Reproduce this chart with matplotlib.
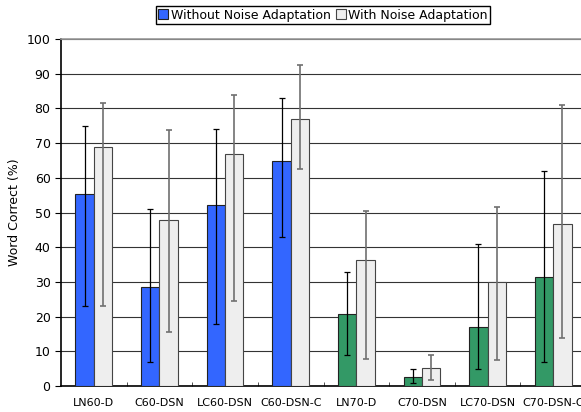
import numpy as np
import matplotlib.pyplot as plt

categories = ["LN60-D", "C60-DSN", "LC60-DSN", "C60-DSN-C",
              "LN70-D", "C70-DSN", "LC70-DSN", "C70-DSN-C"]

# without noise adaptation
without = [55.3, 28.4, 52.3, 64.9, 20.7, 2.6, 17.1, 31.5]
without_lo = [23.0, 6.8, 17.8, 43.0, 8.8, 0.9, 4.9, 6.8]
without_hi = [75.0, 50.9, 74.0, 83.0, 32.9, 4.9, 41.0, 62.0]

# with noise adaptation
with_na = [68.9, 47.7, 66.9, 76.9, 36.2, 5.1, 30.1, 46.7]
with_lo = [23.1, 15.6, 24.4, 62.5, 7.9, 1.8, 7.4, 13.9]
with_hi = [81.6, 73.8, 84.0, 92.6, 50.4, 8.9, 51.5, 81.0]

fig = plt.figure(figsize=(5.81, 4.12), dpi=100)
ax = fig.add_axes([61/581, 26/412, 525/581, 347/412])

x = np.arange(len(categories))
w = 0.28
col1 = ["#3366FF"]*4 + ["#339966"]*4

b1 = ax.bar(x - w, without, w, align="edge", color=col1, edgecolor="#222222",
            linewidth=0.8, zorder=3, label="Without Noise Adaptation")
b2 = ax.bar(x, with_na, w, align="edge", color="#EEEEEE", edgecolor="#444444",
            linewidth=0.8, zorder=3, label="With Noise Adaptation")

e1 = [np.array(without) - np.array(without_lo), np.array(without_hi) - np.array(without)]
e2 = [np.array(with_na) - np.array(with_lo), np.array(with_hi) - np.array(with_na)]
ax.errorbar(x - w/2, without, yerr=e1, fmt="none", ecolor="black",
            elinewidth=0.9, capsize=2, capthick=0.9, zorder=4)
ax.errorbar(x + w/2, with_na, yerr=e2, fmt="none", ecolor="#707070",
            elinewidth=1.2, capsize=2, capthick=1.2, zorder=4)

ax.set_xlim(-0.5, 7.5)
ax.set_ylim(0, 100)
ax.set_yticks(np.arange(0, 101, 10))
ax.yaxis.grid(True, color="#333333", linewidth=0.8, zorder=0)
ax.set_axisbelow(True)

ax.set_xticks(x)
ax.set_xticklabels(categories, fontsize=8)
ax.set_xticks(np.arange(0.5, 7.5, 1), minor=True)
ax.tick_params(axis="x", which="major", length=0, pad=9)
ax.tick_params(axis="x", which="minor", direction="in", length=3, color="#333333")
ax.tick_params(axis="y", direction="out", length=4, labelsize=9)

ax.spines["right"].set_visible(False)
ax.spines["top"].set_color("#999999")
ax.spines["top"].set_linewidth(1.2)
ax.spines["left"].set_linewidth(1.2)
ax.spines["bottom"].set_linewidth(1.2)

ax.set_ylabel("Word Correct (%)", fontsize=9, labelpad=4)

fig.legend(handles=[b1, b2], loc="center", bbox_to_anchor=(323/581, 1 - 15/412),
           ncol=2, fontsize=9, frameon=True, fancybox=False, edgecolor="black",
           framealpha=1, handlelength=0.8, handleheight=0.8, handletextpad=0.2,
           columnspacing=0.4, borderpad=0.2, borderaxespad=0)

fig.savefig("out.png", dpi=100)
